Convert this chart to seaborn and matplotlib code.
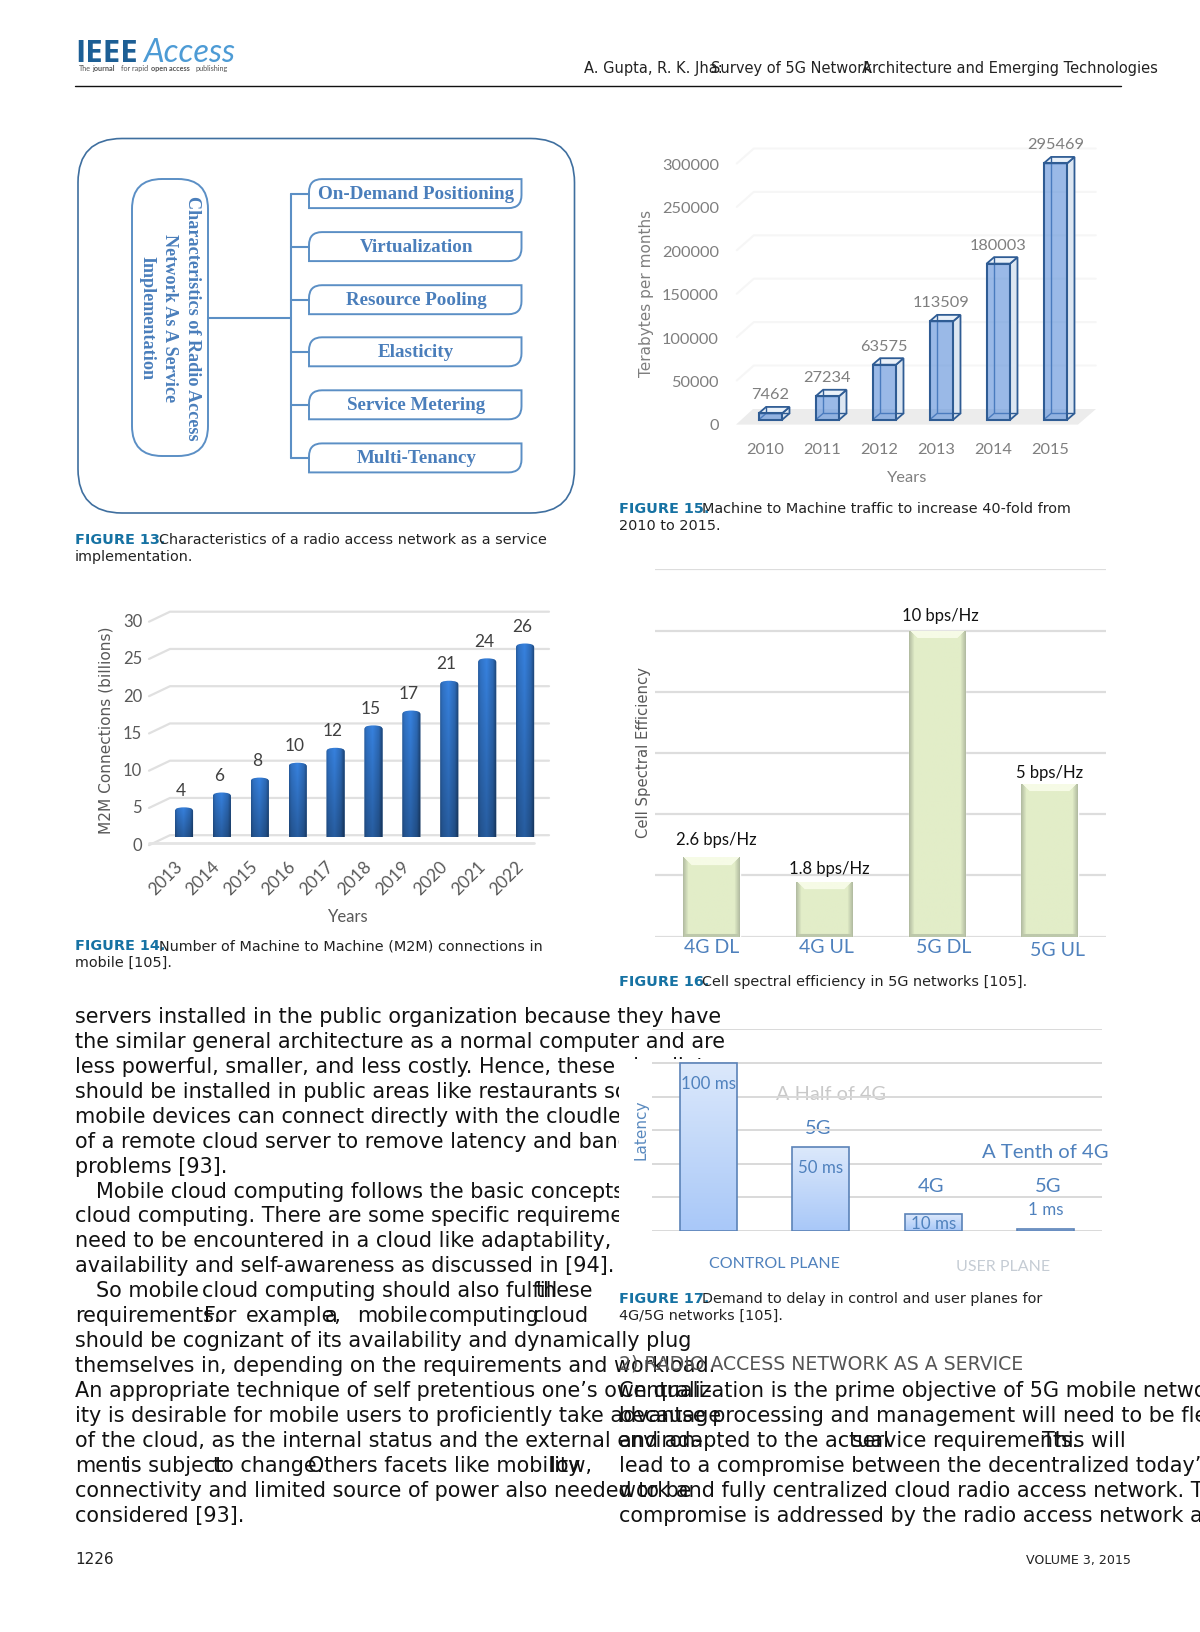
import numpy as np
import matplotlib
matplotlib.use("Agg")
import matplotlib.pyplot as plt
import seaborn as sns
from matplotlib.patches import Rectangle, Polygon, PathPatch, FancyBboxPatch
from matplotlib.path import Path
from matplotlib.lines import Line2D
from matplotlib.transforms import Affine2D, IdentityTransform

# page text
BODY_LEFT = [
    (75, 0, "servers installed in the public organization because they have"),
    (75, 1, "the similar general architecture as a normal computer and are"),
    (75, 2, "less powerful, smaller, and less costly. Hence, these cloudlets"),
    (75, 3, "should be installed in public areas like restaurants so that"),
    (75, 4, "mobile devices can connect directly with the cloudlets instead"),
    (75, 5, "of a remote cloud server to remove latency and bandwidth"),
    (75, 6, "problems [93]."),
    (96, 7, "Mobile cloud computing follows the basic concepts of"),
    (75, 8, "cloud computing. There are some specific requirements that"),
    (75, 9, "need to be encountered in a cloud like adaptability,"),
    (75, 10, "availability and self-awareness as discussed in [94]."),
    (96, 11, "So mobile"), (201.5, 11, "cloud computing should also fulfill"), (535.5, 11, "these"),
    (75, 12, "requirements."), (203.5, 12, "For"), (245.5, 12, "example,"), (325, 12, "a"),
    (357.5, 12, "mobile"), (429, 12, "computing"), (532.5, 12, "cloud"),
    (75, 13, "should be cognizant of its availability and dynamically plug"),
    (75, 14, "themselves in, depending on the requirements and workload."),
    (75, 15, "An appropriate technique of self pretentious one\u2019s own quali-"),
    (75, 16, "ity is desirable for mobile users to proficiently take advantage"),
    (75, 17, "of the cloud, as the internal status and the external environ-"),
    (75, 18, "ment"), (125, 18, "is subject"), (213, 18, "to change."),
    (308.5, 18, "Others facets like mobility"), (550, 18, "low,"),
    (75, 19, "connectivity and limited source of power also needed to be"),
    (75, 20, "considered [93]."),
]
BODY_RIGHT = [
    (619, 15, "Centralization is the prime objective of 5G mobile network"),
    (619, 16, "because processing and management will need to be flexible"),
    (619, 17, "and adapted to the actual"), (852, 17, "service requirements."), (1042, 17, "This will"),
    (619, 18, "lead to a compromise between the decentralized today\u2019s"),
    (619, 19, "work and fully centralized cloud radio access network. The"),
    (619, 20, "compromise is addressed by the radio access network as a"),
]
CAPTIONS = [
    (75, 159, 544, "FIGURE 13.", ["Characteristics of a radio access network as a service", "implementation."]),
    (619, 702.5, 513, "FIGURE 15.", ["Machine to Machine traffic to increase 40-fold from", "2010 to 2015."]),
    (75, 159, 950, "FIGURE 14.", ["Number of Machine to Machine (M2M) connections in", "mobile [105]."]),
    (619, 702.5, 986, "FIGURE 16.", ["Cell spectral efficiency in 5G networks [105]."]),
    (619, 702.5, 1303, "FIGURE 17.", ["Demand to delay in control and user planes for", "4G/5G networks [105]."]),
]

# figure 13
SERVICE_LABELS = ["On-Demand Positioning", "Virtualization", "Resource Pooling",
                  "Elasticity", "Service Metering", "Multi-Tenancy"]
PILL_LINES = ["Characteristics of Radio Access", "Network As A Service", "Implementation"]

# figure 14
M2M_YEARS = ["2013", "2014", "2015", "2016", "2017", "2018", "2019", "2020", "2021", "2022"]
M2M_CONNECTIONS = [4, 6, 8, 10, 12, 15, 17, 21, 24, 26]
M2M_TICKS = [0, 5, 10, 15, 20, 25, 30]

# figure 15
TRAFFIC_YEARS = ["2010", "2011", "2012", "2013", "2014", "2015"]
TRAFFIC_TB = [7462, 27234, 63575, 113509, 180003, 295469]
TRAFFIC_TICKS = [0, 50000, 100000, 150000, 200000, 250000, 300000]

# figure 16
CELL_NAMES = ["4G DL", "4G UL", "5G DL", "5G UL"]
CELL_EFF = [2.6, 1.8, 10, 5]
CELL_LABELS = ["2.6 bps/Hz", "1.8 bps/Hz", "10 bps/Hz", "5 bps/Hz"]
CELL_GRID = [0, 2, 4, 6, 8, 10, 12]

# figure 17
DELAY_NAMES = ["CP 4G", "CP 5G", "UP 4G", "UP 5G"]
DELAY_MS = [100, 50, 10, 1]
DELAY_LABELS = ["100 ms", "50 ms", "10 ms", "1 ms"]
DELAY_GRID = [0, 20, 40, 60, 80, 100, 120]

W, H = 1200, 1632
sns.set_theme(style="white")
plt.rcParams["font.family"] = ["DejaVu Sans"]
CHART_FONT = "Lato"
BLUE = "#4f81bd"

fig = plt.figure(figsize=(W / 100, H / 100), dpi=100, facecolor="white")
page = fig.add_axes([0, 0, 1, 1], zorder=0)
page.set_xlim(0, W)
page.set_ylim(H, 0)
page.axis("off")


def chart_axes(left, right, top, bottom):
    ax = fig.add_axes([left / W, 1 - bottom / H, (right - left) / W, (bottom - top) / H], zorder=2)
    ax.patch.set_visible(False)
    sns.despine(ax=ax, left=True, bottom=True)
    return ax


def skew_grid(ax, ticks, xl, xr, back, front, color, lw=1.2):
    # gridlines on the back wall and the short slanted bit to the left
    for v in ticks:
        x0, y0 = ax.transData.transform((xl, v))
        x1, _ = ax.transData.transform((xr, v))
        xs = [x0 + front[0], x0 + back[0], x1 + back[0]]
        ys = [y0 + front[1], y0 + back[1], y0 + back[1]]
        ax.add_line(Line2D(xs, ys, transform=IdentityTransform(), color=color, lw=lw,
                           clip_on=False, zorder=0.5))


def paint(ax, patch, img, clip=None):
    x, y, w, h = patch.get_x(), patch.get_y(), patch.get_width(), patch.get_height()
    im = ax.imshow(img, extent=[x, x + w, y, y + h], aspect="auto", interpolation="bilinear",
                   zorder=patch.get_zorder() + 0.1)
    if clip is None:
        im.set_clip_path(patch)
    else:
        im.set_clip_path(clip, transform=ax.transData)


def hex_rgb(c):
    return np.array(matplotlib.colors.to_rgb(c))


# ---- page furniture
BASE_Y = 1023
STEP_Y = 24.93
BODY_SIZE = 14.97
for x, i, s in BODY_LEFT + BODY_RIGHT:
    page.text(x, BASE_Y + i * STEP_Y, s, fontsize=BODY_SIZE, color="#111111", va="baseline", zorder=2)
page.add_patch(Rectangle((619, 1059), 500, 232, fc="white", ec="none", zorder=3))
page.text(619, 1369, "2) RADIO ACCESS NETWORK AS A SERVICE", fontsize=13.6, color="#555555",
          va="baseline", zorder=4)

page.text(584, 72.5, "A. Gupta, R. K. Jha:", fontsize=10.5, color="#222222", va="baseline")
page.text(711, 72.5, "Survey of 5G Network", fontsize=10.5, color="#222222", va="baseline")
page.text(862, 72.5, "Architecture and Emerging Technologies", fontsize=10.5, color="#222222", va="baseline")
page.plot([75, 1121], [85.5, 85.5], color="#111111", lw=1)
page.text(75, 1564, "1226", fontsize=11, color="#222222", va="baseline")
page.text(1131, 1564, "VOLUME 3, 2015", fontsize=9.1, color="#222222", va="baseline", ha="right")

for x0, x1, y, tag, lines in CAPTIONS:
    page.text(x0, y, tag, fontsize=10.4, fontweight="bold", color="#1672a3", va="baseline", zorder=5)
    page.text(x1, y, lines[0], fontsize=10.4, color="#222222", va="baseline", zorder=5)
    if len(lines) > 1:
        page.text(x0, y + 17, lines[1], fontsize=10.4, color="#222222", va="baseline", zorder=5)

# logo
page.text(75, 62, "IEEE", family="Open Sans", fontweight="bold", fontsize=22.5, color="#1d5f95", va="baseline")
page.text(143, 62, "Access", family="Lato", fontstyle="italic", fontsize=23.5,
          color="#4d9bd5", va="baseline")
for x, s, wt in [(79, "The", "normal"), (92.7, "journal", "bold"), (121, "for rapid", "normal"),
                 (150.6, "open access", "bold"), (195.3, "publishing", "normal")]:
    page.text(x, 71, s, family="Lato", fontsize=5.2, fontweight=wt, color="#555555", va="baseline")

# ---- figure 13
D_EDGE = "#5b8fc5"
D_TEXT = "#4a7ebb"
page.add_patch(FancyBboxPatch((78 + 44, 138.5 + 44), 496.5 - 88, 374.5 - 88,
                              boxstyle="round,pad=44,rounding_size=44", fc="white", ec="#3f6f9f", lw=1.2))
page.add_patch(FancyBboxPatch((132 + 30, 179 + 30), 76 - 60, 277 - 60,
                              boxstyle="round,pad=30,rounding_size=30", fc="white", ec=D_EDGE, lw=1.4))
for x, s in zip([193.6, 170.7, 147.8], PILL_LINES):
    page.text(x - 1, 318, s, rotation=-90, ha="center", va="center", family="Liberation Serif",
              fontweight="bold", fontsize=13.1, color=D_TEXT)
page.plot([208, 290.5], [317.5, 317.5], color=D_EDGE, lw=1.5)
box_y = [193.6, 246.6, 299.7, 351.8, 404.8, 457.9]
page.plot([290.5, 290.5], [box_y[0], box_y[-1]], color=D_EDGE, lw=1.5)
for yc, s in zip(box_y, SERVICE_LABELS):
    page.plot([290.5, 309], [yc, yc], color=D_EDGE, lw=1.5)
    x0, x1, y0, y1, r = 309, 521.5, yc - 14.5, yc + 14.5, 13
    verts = [(x0, y1), (x0, y0 + r), (x0, y0), (x0 + r, y0), (x1, y0), (x1, y1 - r), (x1, y1),
             (x1 - r, y1), (x0, y1), (x0, y1)]
    codes = [Path.MOVETO, Path.LINETO, Path.CURVE3, Path.CURVE3, Path.LINETO, Path.LINETO,
             Path.CURVE3, Path.CURVE3, Path.LINETO, Path.CLOSEPOLY]
    page.add_patch(PathPatch(Path(verts, codes), fc="white", ec=D_EDGE, lw=1.4))
    page.text((x0 + x1) / 2 + 1, yc + 1, s, ha="center", va="center", family="Liberation Serif",
              fontweight="bold", fontsize=13.65, color=D_TEXT)

# ---- figure 14
ax14 = chart_axes(165, 544, 613.7, 837.2)
sns.barplot(x=M2M_YEARS, y=M2M_CONNECTIONS, color="#2e6db4", width=0.48, saturation=1, ax=ax14)
ax14.set_xlim(-0.5, 9.5)
ax14.set_ylim(0, 30)
skew_grid(ax14, M2M_TICKS, -0.5, 9.5, (5, 2), (-16, -8), "#e0e0e0", 1.6)
ax14.add_line(Line2D([149, 534], [H - 843, H - 843], transform=IdentityTransform(), color="#e4e4e4",
                     lw=2, clip_on=False, zorder=0.5))
across = np.interp(np.linspace(0, 1, 30), [0, 0.12, 0.45, 0.8, 1], [0.78, 0.95, 1.08, 0.88, 0.55])
down = np.linspace(1.08, 0.78, 30)
shade = np.clip(np.outer(down, across)[..., None] * hex_rgb("#2f6fbf"), 0, 1)
for bar in ax14.containers[0]:
    x, w, h = bar.get_x(), bar.get_width(), bar.get_height()
    verts = [(x, 0), (x, h - 0.5), (x, h), (x + w / 2, h), (x + w, h), (x + w, h - 0.5), (x + w, 0), (x, 0)]
    codes = [Path.MOVETO, Path.LINETO, Path.CURVE3, Path.CURVE3, Path.CURVE3, Path.CURVE3, Path.LINETO,
             Path.CLOSEPOLY]
    bar.set_clip_path(Path(verts, codes), transform=ax14.transData)
    paint(ax14, bar, shade, Path(verts, codes))
ax14.set_xlim(-0.5, 9.5)
ax14.set_ylim(0, 30)
ax14.set_yticks(M2M_TICKS)
ax14.set_xticks(range(10))
ax14.set_xticklabels(M2M_YEARS, rotation=45, ha="right", rotation_mode="anchor")
ax14.tick_params(axis="y", length=0, pad=16.5, labelsize=12, labelcolor="#595959")
ax14.tick_params(axis="x", length=0, pad=15, labelsize=12.5, labelcolor="#595959")
for t in ax14.get_yticklabels():
    t.set_family(CHART_FONT)
    t.set_transform(t.get_transform() + Affine2D().translate(0, -7))
for t in ax14.get_xticklabels():
    t.set_family(CHART_FONT)
    t.set_transform(t.get_transform() + Affine2D().translate(-10, 0))
for t in ax14.bar_label(ax14.containers[0], padding=6, fontsize=12.5, color="#404040", family=CHART_FONT):
    t.xyann = (-2, t.xyann[1])
ax14.set_xlabel("Years", fontsize=12, color="#595959", family=CHART_FONT)
ax14.xaxis.set_label_coords(348, 909, transform=page.transData)
ax14.set_ylabel("M2M Connections (billions)", fontsize=11.1, color="#595959")
ax14.yaxis.set_label_coords(113.5, 730.5, transform=page.transData)

# ---- figure 15
ax15 = chart_axes(741.8, 1083.8, 159.5, 419.9)
sns.barplot(x=TRAFFIC_YEARS, y=TRAFFIC_TB, color="#9dbde6", width=0.41, saturation=1, ax=ax15)
ax15.set_xlim(-0.5, 5.5)
ax15.set_ylim(0, 300000)
skew_grid(ax15, TRAFFIC_TICKS[1:], -0.5, 5.5, (12, 11), (-5, -4), "#f6f6f6", 1.5)
fx = lambda p: (p[0], H - p[1])
ax15.add_patch(Polygon([fx((736, 424.6)), fx((1078, 424.6)), fx((1096, 409)), fx((753, 409))],
                       transform=IdentityTransform(), fc="#ececec", ec="none", zorder=0.6, clip_on=False))
DX, DY = 7.5, 6.5
EDGE15 = "#2f5c94"
for bar in ax15.containers[0]:
    (x0, y0), (x1, y1) = ax15.transData.transform(
        [(bar.get_x(), 0), (bar.get_x() + bar.get_width(), bar.get_height())])
    ax15.add_patch(Polygon([(x1, y0), (x1 + DX, y0 + DY), (x1 + DX, y1 + DY), (x1, y1)],
                           transform=IdentityTransform(), fc="#dce6f2", ec=EDGE15, lw=1.3, zorder=1,
                           clip_on=False))
    ax15.add_patch(Polygon([(x0, y1), (x1, y1), (x1 + DX, y1 + DY), (x0 + DX, y1 + DY)],
                           transform=IdentityTransform(), fc="#eaf1f9", ec=EDGE15, lw=1.3, zorder=1,
                           clip_on=False))
    ax15.add_line(Line2D([x0 + DX, x0 + DX, x1 + DX], [y1 + DY, y0 + DY, y0 + DY],
                         transform=IdentityTransform(), color=EDGE15, lw=1, zorder=1, clip_on=False))
    ax15.add_line(Line2D([x0, x0 + DX], [y0, y0 + DY], transform=IdentityTransform(), color=EDGE15,
                         lw=1, zorder=1, clip_on=False))
    bar.set_facecolor((0.36, 0.56, 0.85, 0.62))
    bar.set_edgecolor(EDGE15)
    bar.set_linewidth(1.5)
    bar.set_zorder(2)
    bar.set_clip_on(False)
ax15.set_yticks(TRAFFIC_TICKS)
ax15.set_xticks(range(6))
ax15.tick_params(axis="y", length=0, pad=16.5, labelsize=11.8, labelcolor="#7f7f7f")
ax15.tick_params(axis="x", length=0, pad=16.5, labelsize=11.8, labelcolor="#7f7f7f")
for t in ax15.get_yticklabels():
    t.set_family(CHART_FONT)
    t.set_transform(t.get_transform() + Affine2D().translate(0, -5))
for t in ax15.get_xticklabels():
    t.set_family(CHART_FONT)
    t.set_transform(t.get_transform() + Affine2D().translate(-5, 0))
ax15.bar_label(ax15.containers[0], padding=8, fontsize=11.8, color="#7f7f7f", family=CHART_FONT)
ax15.set_xlabel("Years", fontsize=11.8, color="#7f7f7f", family=CHART_FONT)
ax15.xaxis.set_label_coords(907, 471.5, transform=page.transData)
ax15.set_ylabel("Terabytes per months", fontsize=11, color="#7f7f7f")
ax15.yaxis.set_label_coords(654.5, 293.5, transform=page.transData)

# ---- figure 16
ax16 = chart_axes(655.1, 1106, 569.3, 936.6)
sns.barplot(x=CELL_NAMES, y=CELL_EFF, color="#e2edc8", width=0.5, saturation=1, ax=ax16)
ax16.set_xlim(-0.5, 3.5)
ax16.set_ylim(0, 12)
ax16.set_yticks(CELL_GRID)
ax16.set_yticklabels([])
ax16.tick_params(axis="y", length=0)
ax16.grid(axis="y", color="#dddddd", lw=1.6)
ax16.set_axisbelow(True)
for bar in ax16.containers[0]:
    px_w = 56
    px_h = max(int(bar.get_height() * 30.6), 2)
    img = np.ones((px_h, px_w, 3)) * hex_rgb("#e2edc8")
    img[:, :6] = np.linspace(hex_rgb("#b3bda2"), hex_rgb("#e2edc8"), 6)
    img[:, -6:] = np.linspace(hex_rgb("#e2edc8"), hex_rgb("#b3bda2"), 6)
    for r in range(min(8, px_h)):
        # the lighter bevel along the top edge
        img[r, r + 1:px_w - r - 1] = hex_rgb("#f6fbe6")
    img[-3:] = np.minimum(img[-3:], hex_rgb("#bdc8ab"))
    paint(ax16, bar, img)
ax16.set_xlim(-0.5, 3.5)
ax16.set_ylim(0, 12)
ax16.set_xticks(range(4))
ax16.set_xticklabels(CELL_NAMES)
ax16.tick_params(axis="x", length=0, pad=2, labelsize=14, labelcolor=BLUE)
for t, dx, dy in zip(ax16.get_xticklabels(), [0, 2, 7, 8], [0, 0, 0, -3]):
    t.set_family(CHART_FONT)
    t.set_transform(t.get_transform() + Affine2D().translate(dx, dy))
for bar, s, dx, dy in zip(ax16.containers[0], CELL_LABELS, [5, 5, 3, 0], [17, 13, 15, 11]):
    ax16.annotate(s, (bar.get_x() + bar.get_width() / 2, bar.get_height()), xytext=(dx, dy),
                  textcoords="offset pixels", ha="center", va="center", fontsize=12,
                  family=CHART_FONT, color="#111111")
ax16.set_ylabel("Cell Spectral Efficiency", fontsize=10.7, color="#595959")
ax16.yaxis.set_label_coords(651, 752.5, transform=page.transData)
ax16.set_xlabel("")

# ---- figure 17
ax17 = chart_axes(652.2, 1102, 1029.4, 1231)
sns.barplot(x=DELAY_NAMES, y=DELAY_MS, color="#c9dcf9", width=0.505, saturation=1, ax=ax17)
ax17.set_xlim(-0.5, 3.5)
ax17.set_ylim(0, 120)
ax17.set_yticks(DELAY_GRID)
ax17.set_yticklabels([])
ax17.tick_params(axis="both", length=0)
ax17.set_xticks([])
ax17.grid(axis="y", color="#d9d9d9", lw=1.4)
ax17.set_axisbelow(True)
for bar in ax17.containers[0]:
    img = np.linspace(hex_rgb("#dbe8fb"), hex_rgb("#a9c8f8"), 40)[:, None, :]
    paint(ax17, bar, img)
    bar.set_facecolor("none")
    bar.set_edgecolor("#5b83b8")
    bar.set_linewidth(1.2)
    bar.set_zorder(bar.get_zorder() + 0.3)
ax17.set_xlim(-0.5, 3.5)
ax17.set_ylim(0, 120)
for bar, s, dy in zip(ax17.containers[0], DELAY_LABELS, [-21, -21, -9.5, 19]):
    ax17.annotate(s, (bar.get_x() + bar.get_width() / 2, bar.get_height()), xytext=(0, dy),
                  textcoords="offset pixels", ha="center", va="center", fontsize=12.2,
                  family=CHART_FONT, color=BLUE, zorder=6)
ax17.set_ylabel("Latency", fontsize=11, color="#5a8abf")
ax17.yaxis.set_label_coords(648.5, 1130, transform=page.transData)
ax17.set_xlabel("")
for x, y, s, c, size in [(831, 1094, "A Half of 4G", "#c9c9c9", 14.3), (818, 1128, "5G", BLUE, 14.5),
                         (931, 1187, "4G", BLUE, 14.5), (1048, 1187, "5G", BLUE, 14.5),
                         (1045, 1152, "A Tenth of 4G", BLUE, 14.6),
                         (774, 1264, "CONTROL PLANE", BLUE, 11.5),
                         (1003, 1267, "USER PLANE", "#c5ccd4", 11.5)]:
    page.text(x, y, s, color=c, fontsize=size, family=CHART_FONT, ha="center", va="center", zorder=5)

fig.savefig("out.png", dpi=100)
